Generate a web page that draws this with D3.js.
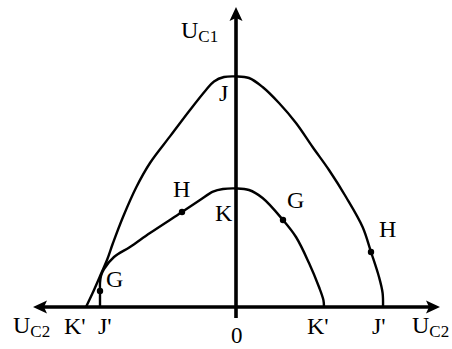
<!DOCTYPE html>
<html>
<head>
<meta charset="utf-8">
<script src="https://cdn.jsdelivr.net/npm/d3@7/dist/d3.min.js"></script>
<style>
  html, body { margin: 0; padding: 0; background: #fff; }
  svg { display: block; }
  text { font-family: "Liberation Serif", "Times New Roman", serif; fill: #000; }
</style>
</head>
<body>
<svg id="chart" width="452" height="349"></svg>
<script>
// Outer characteristic (J curve), U_C2 on x, U_C1 on y
const outerU2 = [-7.5, -7.1, -6.73, -6.45, -6.15, -5.65, -4.98, -4.3, -3.3, -2.3, -1.5, -1.1, -0.6, 0,
                 0.65, 1.33, 2.15, 3.0, 3.83, 4.65, 5.5, 6.33, 6.75, 7.15, 7.33, 7.35];
const outerU1 = [0, 0.85, 1.7, 2.35, 3.2, 4.5, 6.0, 7.2, 8.53, 9.85, 10.85, 11.28, 11.5, 11.53,
                 11.45, 11.0, 10.2, 9.2, 8.0, 6.85, 5.5, 4.0, 2.75, 1.5, 0.7, 0];

// Inner characteristic (K curve)
const innerU2 = [-6.8, -6.8, -6.8, -6.75, -6.6, -6.1, -5.3, -4.3, -2.7, -1.8, -1.15, -0.65, 0,
                 0.65, 1.33, 2.35, 3.0, 3.65, 4.15, 4.37, 4.4];
const innerU1 = [0, 0.8, 1.2, 1.55, 1.9, 2.5, 3.0, 3.7, 4.75, 5.35, 5.77, 5.9, 5.93,
                 5.85, 5.45, 4.35, 3.5, 2.2, 1.0, 0.35, 0];

// Marked operating points
const pointNames = ["H", "G", "H", "G"];
const pointU2 = [-2.7, 2.35, 6.75, -6.8];
const pointU1 = [4.75, 4.35, 2.75, 0.8];

// Axis extents and intercept labels
const axisX = [-10.15, 10.2];
const axisY = [-0.55, 15];
const interceptNames = ["K'", "J'", "K'", "J'"];
const interceptU2 = [-7.5, -6.8, 4.4, 7.35];

const svg = d3.select("#chart");
const x = d3.scaleLinear().domain(axisX).range([33, 440]);
const y = d3.scaleLinear().domain([0, 15]).range([307, 7]);

const zip = (a, b) => a.map((v, i) => [v, b[i]]);
const line = d3.line().x(d => x(d[0])).y(d => y(d[1])).curve(d3.curveCatmullRom.alpha(0.5));

// Axes
const axisW = 3.6, headL = 14, headW = 6.5, notch = 3;
svg.append("line")
  .attr("x1", x(axisX[0]) + headL - notch).attr("x2", x(axisX[1]) - headL + notch)
  .attr("y1", y(0)).attr("y2", y(0))
  .attr("stroke", "#000").attr("stroke-width", axisW);
svg.append("line")
  .attr("x1", x(0)).attr("x2", x(0))
  .attr("y1", y(axisY[0])).attr("y2", y(axisY[1]) + headL - notch)
  .attr("stroke", "#000").attr("stroke-width", axisW);

function arrow(tx, ty, dx, dy) {
  // dx,dy: unit direction the arrow points to
  const px = -dy, py = dx;
  const bx = tx - dx * headL, by = ty - dy * headL;
  const nx = tx - dx * (headL - notch), ny = ty - dy * (headL - notch);
  return `M${tx},${ty}L${bx + px * headW},${by + py * headW}L${nx},${ny}L${bx - px * headW},${by - py * headW}Z`;
}
svg.append("path").attr("d", arrow(x(axisX[0]), y(0), -1, 0)).attr("fill", "#000");
svg.append("path").attr("d", arrow(x(axisX[1]), y(0), 1, 0)).attr("fill", "#000");
svg.append("path").attr("d", arrow(x(0), y(axisY[1]), 0, -1)).attr("fill", "#000");

// Curves
svg.append("path").attr("d", line(zip(outerU2, outerU1)))
  .attr("fill", "none").attr("stroke", "#000").attr("stroke-width", 2.4);
svg.append("path").attr("d", line(zip(innerU2, innerU1)))
  .attr("fill", "none").attr("stroke", "#000").attr("stroke-width", 2.4);

// Points
svg.selectAll("circle.pt").data(d3.range(pointU2.length)).join("circle")
  .attr("class", "pt")
  .attr("cx", i => x(pointU2[i])).attr("cy", i => y(pointU1[i]))
  .attr("r", 3.2).attr("fill", "#000");

// Point labels, offset from each marker
const ptOffset = [[-9, -15], [4, -12], [8, -15], [6, -4]];
svg.selectAll("text.pt").data(d3.range(pointNames.length)).join("text")
  .attr("class", "pt")
  .attr("x", i => x(pointU2[i]) + ptOffset[i][0])
  .attr("y", i => y(pointU1[i]) + ptOffset[i][1])
  .attr("font-size", 24)
  .text(i => pointNames[i]);

// Apex labels
svg.append("text").attr("x", x(0) - 17).attr("y", y(d3.max(outerU1)) + 25)
  .attr("font-size", 24).text("J");
svg.append("text").attr("x", x(0) - 21).attr("y", y(d3.max(innerU1)) + 33)
  .attr("font-size", 24).text("K");

// Intercept labels
const icOffset = [-22, -2, -17, -11];
svg.selectAll("text.ic").data(d3.range(interceptNames.length)).join("text")
  .attr("class", "ic")
  .attr("x", i => x(interceptU2[i]) + icOffset[i])
  .attr("y", y(0) + 27)
  .attr("font-size", 24)
  .text(i => interceptNames[i]);

// Origin
svg.append("text").attr("x", x(0) - 5).attr("y", y(0) + 36)
  .attr("font-size", 23).text("0");

// Axis titles
function axisTitle(tx, ty, sub) {
  const t = svg.append("text").attr("x", tx).attr("y", ty).attr("font-size", 24);
  t.append("tspan").text("U");
  t.append("tspan").attr("font-size", 17).attr("dy", 4).text(sub);
}
axisTitle(x(0) - 55, y(axisY[1]) + 31, "C1");
axisTitle(x(axisX[0]) - 20, y(0) + 26, "C2");
axisTitle(x(axisX[1]) - 28, y(0) + 26, "C2");
</script>
</body>
</html>
